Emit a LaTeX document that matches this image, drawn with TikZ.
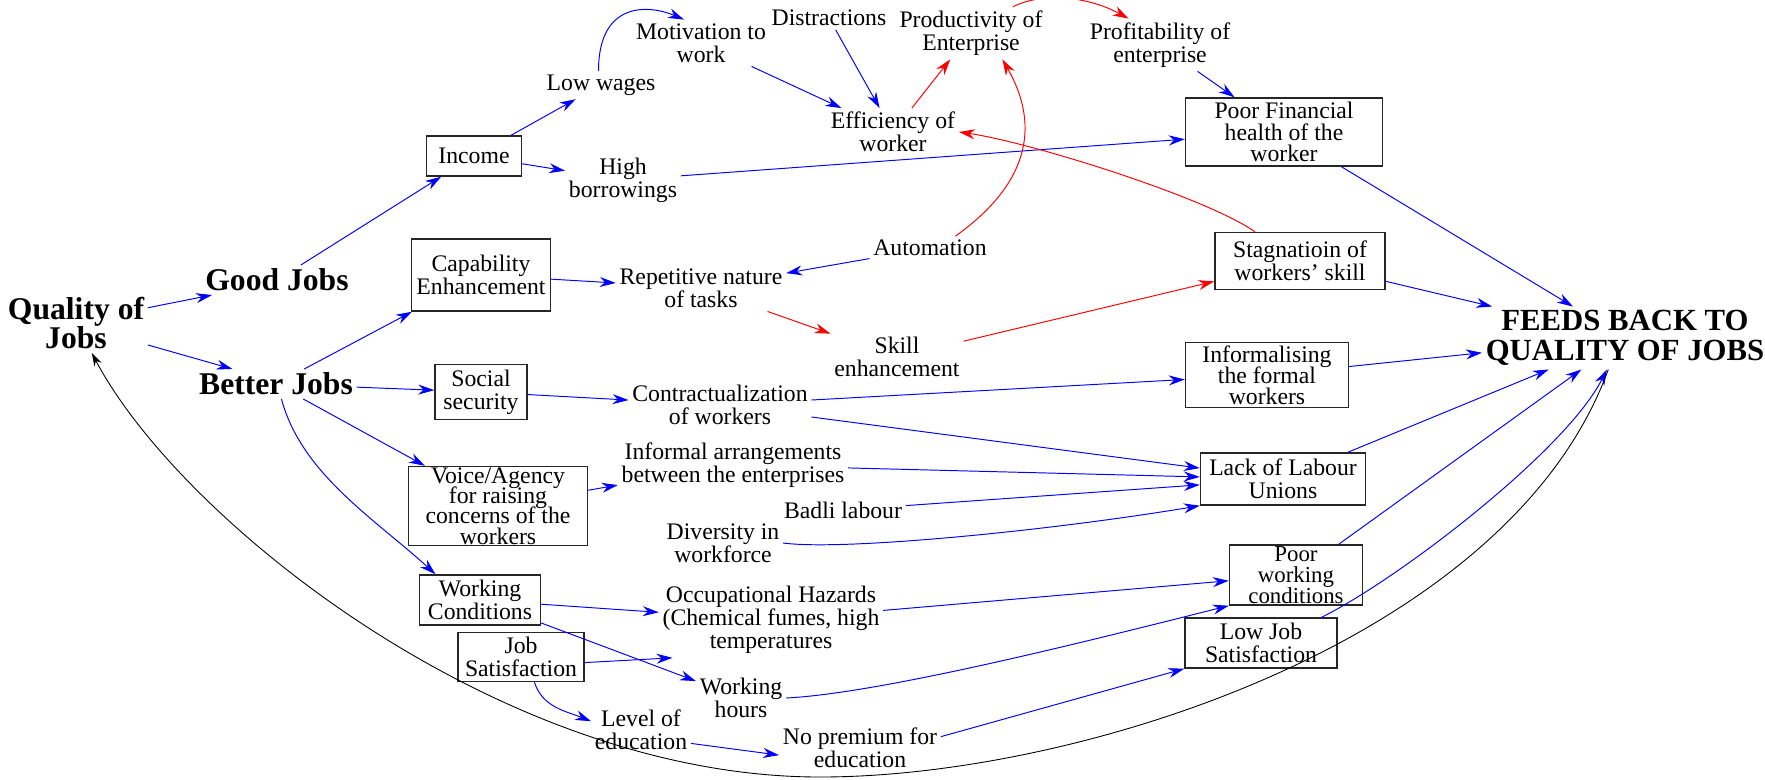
\documentclass[tikz,border=0pt]{standalone}
\usepackage{fontspec}
\setmainfont{Liberation Serif}
\usepackage{tikz}
\usetikzlibrary{arrows.meta}
\setlength{\lineskiplimit}{-100pt}

\begin{document}
\begin{tikzpicture}[
    x=0.02cm, y=-0.02cm,
    txt/.style={align=center, inner sep=2pt, font=\fontsize{13.5}{13.2}\selectfont},
    tight/.style={font=\fontsize{13.5}{#1}\selectfont, inner sep=0pt},
    box/.style={txt, draw=black!85, line width=0.8pt, inner sep=1pt},
    sz/.style 2 args={minimum width=#1*0.02cm, minimum height=#2*0.02cm},
    big/.style={align=center, inner sep=2pt, font=\fontsize{18}{17}\selectfont\bfseries},
    link/.style={-{Stealth[length=3.2mm, width=2mm]}, color=blue, line width=0.55pt},
    neg/.style={link, color=red},
    feedback/.style={-{Stealth[length=2.6mm, width=1.6mm]}, color=black, line width=0.5pt}
]
\useasboundingbox (0,0) rectangle (1765,779);

\node[big] (quality) at (76,323) {Quality of\\Jobs};
\node[big] (good) at (277,280) {Good Jobs};
\node[big] (better) at (276,384) {Better Jobs};
\node[big, font=\fontsize{17.5}{17}\selectfont\bfseries] (feeds) at (1625,338) {FEEDS BACK TO\\QUALITY OF JOBS};

\node[box, sz={95}{40}] (income) at (474,156) {Income};
\node[box, sz={139}{72}] (capab) at (481,275) {Capability\\Enhancement};
\node[box, sz={92}{55}] (social) at (481,392) {Social\\security};
\node[box, sz={179}{79}, tight=11.6] (voice) at (498,506) {Voice/Agency\\for raising\\concerns of the\\workers};
\node[box, sz={121}{50}] (working) at (480,600) {Working\\Conditions};
\node[box, sz={126}{49}] (jobsat) at (521,657) {Job\\Satisfaction};
\node[box, sz={197}{68}, tight=12.2] (poorfin) at (1284,132) {Poor Financial\\health of the\\worker};
\node[box, sz={170}{57}] (stagn) at (1300,261) {Stagnatioin of\\workers' skill};
\node[box, sz={163}{65}, tight=12] (informf) at (1267,375) {Informalising\\the formal\\workers};
\node[box, sz={165}{52}] (lack) at (1283,479) {Lack of Labour\\Unions};
\node[box, sz={133}{60}, tight=12, font=\fontsize{13}{12}\selectfont] (poorwork) at (1296,575) {Poor\\working\\conditions};
\node[box, sz={152}{50}] (lowsat) at (1261,643) {Low Job\\Satisfaction};

\node[txt] (lowwages) at (601,85) {Low wages};
\node[txt] (motiv) at (701,43) {Motivation to\\work};
\node[txt] (distract) at (829,18) {Distractions};
\node[txt] (product) at (971,33) {Productivity of\\Enterprise};
\node[txt] (profit) at (1160,45) {Profitability of\\enterprise};
\node[txt] (effic) at (893,132) {Efficiency of\\worker};
\node[txt] (borrow) at (623,180) {High\\borrowings};
\node[txt] (autom) at (930,248) {Automation};
\node[txt] (repet) at (701,288) {Repetitive nature\\of tasks};
\node[txt] (skill) at (897,357) {Skill\\enhancement};
\node[txt] (contract) at (720,405) {Contractualization\\of workers};
\node[txt] (informal) at (733,465) {Informal arrangements\\between the enterprises};
\node[txt] (badli) at (843,510) {Badli labour};
\node[txt] (divers) at (723,543) {Diversity in\\workforce};
\node[txt] (hazard) at (771,620) {Occupational Hazards\\(Chemical fumes, high\\temperatures};
\node[txt] (hours) at (741,698) {Working\\hours};
\node[txt] (educ) at (641,730) {Level of\\education};
\node[txt] (premium) at (860,748) {No premium for\\education};

\draw[link] (quality.12) -- (good.-167);
\draw[link] (quality.-17) -- (better.161);
\draw[link] (good) -- (income);
\draw[link] (better) -- (capab);
\draw[link] (better) -- (social);
\draw[link] (better) -- (voice);
\draw[link] (better.-70) .. controls +(20,75) and +(-60,-55) .. (working.150);

\draw[link] (income) -- (lowwages);
\draw[link] (income) -- (borrow);
\draw[link] (lowwages.100) .. controls +(0,-70) and +(-35,-15) .. (motiv.126);
\draw[link] (motiv) -- (effic);
\draw[link] (distract) -- (effic);
\draw[neg] (effic) -- (product);
\draw[neg] (product.32) .. controls +(30,-15) and +(-40,-22) .. (profit.140);
\draw[link] (profit) -- (poorfin);
\draw[link] (borrow) -- (poorfin);
\draw[neg] (autom.25) .. controls +(70,-50) and +(40,70) .. (product.-40);
\draw[neg] (stagn.147) .. controls +(-50,-35) and +(70,10) .. (effic.east);
\draw[link] (poorfin) -- (feeds);

\draw[link] (capab) -- (repet);
\draw[link] (autom) -- (repet);
\draw[neg] (repet) -- (skill);
\draw[neg] (skill) -- (stagn);
\draw[link] (stagn) -- (feeds);

\draw[link] (social) -- (contract);
\draw[link] (contract) -- (informf);
\draw[link] (contract) -- (lack);
\draw[link] (informf) -- (feeds);
\draw[link] (voice) -- (informal);
\draw[link] (informal) -- (lack);
\draw[link] (badli) -- (lack);
\draw[link] (divers.east) .. controls +(60,8) and +(-150,25) .. (lack.south west);
\draw[link] (lack) -- (feeds);

\draw[link] (working) -- (hazard);
\draw[link] (working) -- (hours);
\draw[link] (jobsat.-5) -- (hazard.-159);
\draw[link] (jobsat.-62) .. controls +(8,25) and +(-25,-10) .. (educ.170);
\draw[link] (educ.-15) -- (premium.185);
\draw[link] (premium.8) -- (lowsat.south west);
\draw[link] (hazard) -- (poorwork);
\draw[link] (hours.east) .. controls +(100,-5) and +(-120,30) .. (poorwork.south west);
\draw[link] (poorwork) -- (feeds);
\draw[link] (lowsat.23) .. controls +(80,-40) and +(-40,80) .. (feeds.-120);

\coordinate (loopbot) at (820,777);
\draw[feedback] (feeds.-118) .. controls (1510,640) and (1080,777) .. (loopbot) .. controls (500,777) and (180,520) .. (quality);
\end{tikzpicture}
\end{document}
